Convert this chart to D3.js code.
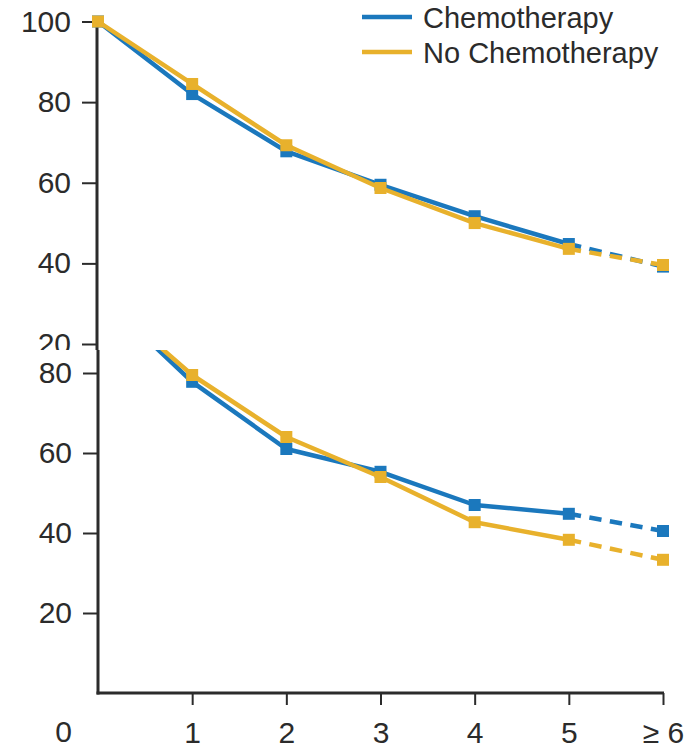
<!DOCTYPE html>
<html>
<head>
<meta charset="utf-8">
<script src="https://d3js.org/d3.v7.min.js"></script>
<style>
  body { margin: 0; background: #fff; }
  svg { display: block; }
  .axis text { font: 30px "Liberation Sans", Arial, sans-serif; fill: #2b2b2b; }
  .axis line { stroke: #2b2b2b; stroke-width: 2; }
  .axis path { display: none; }
  .legend text { font: 29px "Liberation Sans", Arial, sans-serif; fill: #2b2b2b; }
</style>
</head>
<body>
<svg id="chart" width="692" height="750"></svg>
<script>
// x categories (years)
var xValues = [0, 1, 2, 3, 4, 5, 6];
var xTickLabels = ["0", "1", "2", "3", "4", "5", "\u2265 6"];

// top panel
var topChemo   = [100, 82, 67.8, 59.5, 51.7, 44.8, 39.2];
var topNoChemo = [100, 84.5, 69.3, 58.7, 50.0, 43.6, 39.6];

// bottom panel
var botChemo   = [100, 77.8, 61.0, 55.3, 47.0, 44.8, 40.5];
var botNoChemo = [100, 79.5, 64.0, 54.0, 42.7, 38.3, 33.3];

var seriesNames = ["Chemotherapy", "No Chemotherapy"];
var colors = ["#1b78bd", "#e8b12c"];

var topTicks = [20, 40, 60, 80, 100];
var botTicks = [20, 40, 60, 80];

var svg = d3.select("#chart");
var ink = "#2b2b2b";

var x = d3.scaleLinear().domain([0, 6]).range([98, 663]);
var yTop = d3.scaleLinear().domain([20, 100]).range([344, 21.5]);
var yBot = d3.scaleLinear().domain([0, 80]).range([693, 373]);
var panelSplit = 350;

svg.append("defs").append("clipPath").attr("id", "clipBot")
  .append("rect").attr("x", 0).attr("y", panelSplit).attr("width", 692).attr("height", 693 - panelSplit);

function drawSeries(g, yScale, values, color) {
  var pts = values.map(function(v, i) { return {x: xValues[i], y: v}; });
  var line = d3.line().x(function(d) { return x(d.x); }).y(function(d) { return yScale(d.y); });
  g.append("path")
    .datum(pts.slice(0, 6))
    .attr("d", line)
    .attr("fill", "none")
    .attr("stroke", color)
    .attr("stroke-width", 4.5)
    .attr("stroke-linejoin", "round");
  var dashed = g.append("path")
    .datum(pts.slice(5))
    .attr("d", line)
    .attr("fill", "none")
    .attr("stroke", color)
    .attr("stroke-width", 4.5);
  // fit 5 dashes between the two markers
  var len = dashed.node().getTotalLength();
  var gap = 8.5;
  var dash = (len - 4 * gap) / 5;
  dashed.attr("stroke-dasharray", dash + "," + gap);
  g.selectAll(null)
    .data(pts)
    .enter().append("rect")
    .attr("x", function(d) { return x(d.x) - 6; })
    .attr("y", function(d) { return yScale(d.y) - 6; })
    .attr("width", 12)
    .attr("height", 12)
    .attr("fill", color);
}

// ---- top panel ----
var topPanel = svg.append("g");
topPanel.append("g")
  .attr("class", "axis")
  .attr("transform", "translate(97,0)")
  .call(d3.axisLeft(yTop).tickValues(topTicks).tickSize(15).tickPadding(11).tickSizeOuter(0));
topPanel.append("line")
  .attr("x1", 97).attr("x2", 97).attr("y1", 18).attr("y2", panelSplit)
  .attr("stroke", ink).attr("stroke-width", 3);
drawSeries(topPanel, yTop, topChemo, colors[0]);
drawSeries(topPanel, yTop, topNoChemo, colors[1]);

// ---- bottom panel ----
svg.append("rect")
  .attr("x", 0).attr("y", panelSplit).attr("width", 692).attr("height", 750 - panelSplit)
  .attr("fill", "#fff");

var botPanel = svg.append("g");
botPanel.append("g")
  .attr("class", "axis")
  .attr("transform", "translate(98,0)")
  .call(d3.axisLeft(yBot).tickValues(botTicks).tickSize(15).tickPadding(11).tickSizeOuter(0));
botPanel.append("g")
  .attr("class", "axis")
  .attr("transform", "translate(0,693)")
  .call(d3.axisBottom(x).tickValues(xValues.slice(1)).tickSize(12).tickPadding(17).tickSizeOuter(0)
    .tickFormat(function(d) { return xTickLabels[d]; }));
botPanel.append("text")
  .attr("x", 72).attr("y", 742)
  .attr("text-anchor", "end")
  .style("font", "30px 'Liberation Sans', Arial, sans-serif")
  .attr("fill", ink)
  .text(xTickLabels[0]);
botPanel.append("line")
  .attr("x1", 98).attr("x2", 98).attr("y1", panelSplit).attr("y2", 694.5)
  .attr("stroke", ink).attr("stroke-width", 3);
botPanel.append("line")
  .attr("x1", 96.5).attr("x2", x(6) + 1).attr("y1", 693).attr("y2", 693)
  .attr("stroke", ink).attr("stroke-width", 3);

var botSeries = botPanel.append("g").attr("clip-path", "url(#clipBot)");
drawSeries(botSeries, yBot, botChemo, colors[0]);
drawSeries(botSeries, yBot, botNoChemo, colors[1]);

// ---- legend ----
var legend = svg.append("g").attr("class", "legend");
seriesNames.forEach(function(name, i) {
  var cy = 17 + i * 35;
  legend.append("line")
    .attr("x1", 362).attr("x2", 412).attr("y1", cy).attr("y2", cy)
    .attr("stroke", colors[i]).attr("stroke-width", 4.5);
  legend.append("text")
    .attr("x", 423).attr("y", cy + 11)
    .text(name);
});
</script>
</body>
</html>
